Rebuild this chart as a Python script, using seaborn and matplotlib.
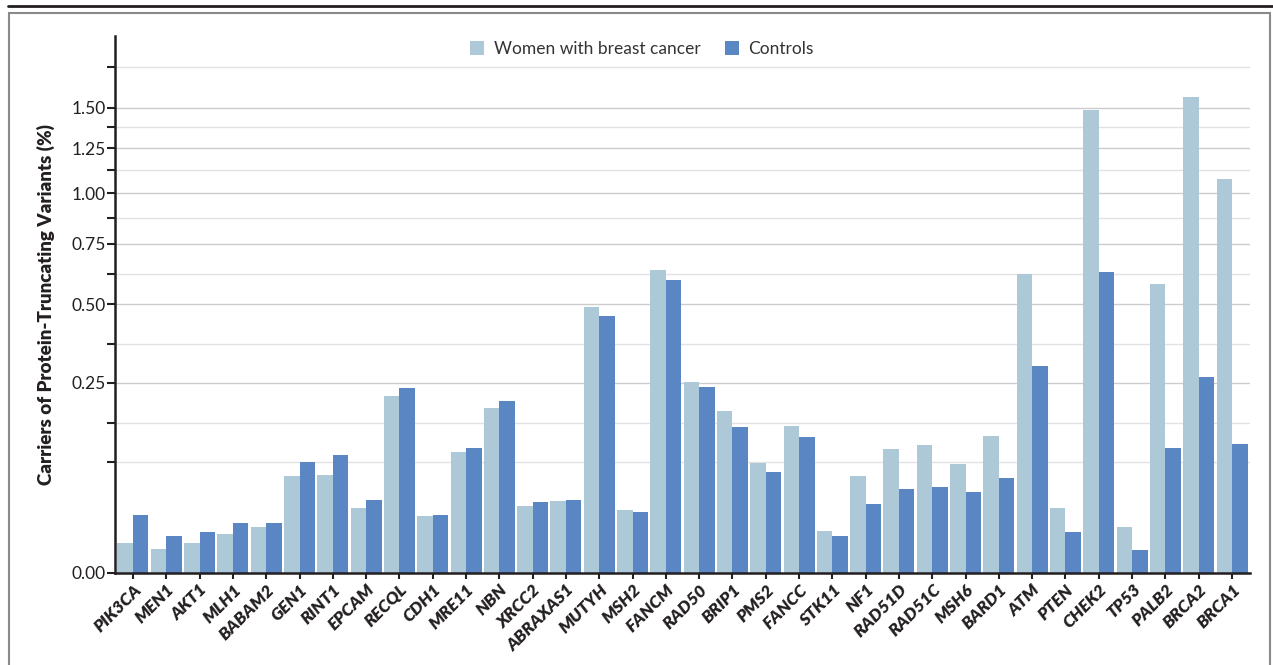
import numpy as np
import pandas as pd
import matplotlib
matplotlib.use("Agg")
import matplotlib.pyplot as plt
from matplotlib.lines import Line2D
import seaborn as sns

genes = ["PIK3CA", "MEN1", "AKT1", "MLH1", "BABAM2", "GEN1", "RINT1", "EPCAM",
         "RECQL", "CDH1", "MRE11", "NBN", "XRCC2", "ABRAXAS1", "MUTYH", "MSH2",
         "FANCM", "RAD50", "BRIP1", "PMS2", "FANCC", "STK11", "NF1", "RAD51D",
         "RAD51C", "MSH6", "BARD1", "ATM", "PTEN", "CHEK2", "TP53", "PALB2",
         "BRCA2", "BRCA1"]
women = [0.006, 0.0038, 0.006, 0.0103, 0.0144, 0.0646, 0.0659, 0.0289,
         0.216, 0.0221, 0.1007, 0.1877, 0.0307, 0.0355, 0.489, 0.0271,
         0.635, 0.2517, 0.181, 0.0832, 0.149, 0.012, 0.0646, 0.1058,
         0.1128, 0.0817, 0.1292, 0.618, 0.0289, 1.484, 0.0144, 0.577,
         1.568, 1.074]
controls = [0.0229, 0.0092, 0.0114, 0.017, 0.017, 0.0847, 0.0958, 0.0365,
            0.236, 0.0229, 0.1075, 0.204, 0.0345, 0.0365, 0.456, 0.0254,
            0.594, 0.2387, 0.1468, 0.0701, 0.1274, 0.0092, 0.0325, 0.0484,
            0.0507, 0.0449, 0.0619, 0.2958, 0.0114, 0.626, 0.0035, 0.1075,
            0.265, 0.1145]
series_names = ["Women with breast cancer", "Controls"]
major_ticks = [0.0, 0.25, 0.5, 0.75, 1.0, 1.25, 1.5]
major_labels = ["0.00", "0.25", "0.50", "0.75", "1.00", "1.25", "1.50"]
minor_ticks = [0.085, 0.156, 0.364, 0.619, 0.873, 1.125, 1.378, 1.774]

df = pd.DataFrame({
    "gene": genes * 2,
    "pct": women + controls,
    "group": [series_names[0]] * len(genes) + [series_names[1]] * len(genes),
})

sns.set_theme(style="white")
plt.rcParams["font.family"] = ["Lato", "DejaVu Sans"]
ink = "#231f20"

W, H = 1273, 665
fig = plt.figure(figsize=(W / 100, H / 100), dpi=100)
ax = fig.add_axes([115 / W, (H - 572.5) / H, 1135 / W, 536.5 / H])

sns.barplot(data=df, x="gene", y="pct", hue="group", order=genes,
            hue_order=series_names, palette=["#adc8d6", "#5b86c4"],
            saturation=1, width=0.93, gap=0, errorbar=None, linewidth=0, ax=ax)

ax.set_yscale("function", functions=(lambda v: np.sqrt(np.clip(v, 0, None)),
                                     lambda v: np.square(v)))
ax.set_ylim(0, 2.0)
ax.set_xlim(-0.54, len(genes) - 0.46)
ax.set_yticks(major_ticks)
ax.set_yticklabels(major_labels)
ax.set_yticks(minor_ticks, minor=True)
ax.yaxis.grid(True, which="major", color="#cccccc", linewidth=1.0)
ax.yaxis.grid(True, which="minor", color="#e2e2e2", linewidth=1.0)
ax.set_axisbelow(True)

for s in ["top", "right"]:
    ax.spines[s].set_visible(False)
for s in ["left", "bottom"]:
    ax.spines[s].set_color(ink)
    ax.spines[s].set_linewidth(1.8)

ax.tick_params(axis="y", which="both", length=5.5, width=1.5, color=ink,
               left=True, labelsize=12.5, labelcolor=ink, pad=1)
ax.tick_params(axis="x", length=4.5, width=1.5, color=ink, bottom=True, pad=2)
ax.set_xticks(range(len(genes)))
ax.set_xticklabels(genes, rotation=45, ha="right", rotation_mode="anchor",
                   fontsize=12.5, fontweight="heavy", fontstyle="italic", color=ink)

ax.set_xlabel("")
ax.set_ylabel("Carriers of Protein-Truncating Variants (%)", fontsize=13.5,
              fontweight="heavy", color=ink, labelpad=12)

handles, labels = ax.get_legend_handles_labels()
ax.legend(handles, labels, loc="center", bbox_to_anchor=(642 / W, 1 - 49 / H),
          bbox_transform=fig.transFigure, ncol=2, frameon=False, fontsize=12.5,
          handlelength=0.8, handleheight=0.8, handletextpad=0.55,
          columnspacing=1.4, labelcolor="#333333")

# outer frame
def fl(x0, y0, x1, y1, **kw):
    fig.add_artist(Line2D([x0 / W, x1 / W], [1 - y0 / H, 1 - y1 / H],
                          transform=fig.transFigure, **kw))

fl(8, 5.7, W, 5.7, color=ink, linewidth=2.0)
fl(9, 12.7, 1270, 12.7, color="#8a8a8a", linewidth=1.5)
fl(9, 12.7, 9, H, color="#8a8a8a", linewidth=1.5)
fl(1270, 12.7, 1270, H, color="#8a8a8a", linewidth=1.5)

fig.savefig("out.png", dpi=100)
